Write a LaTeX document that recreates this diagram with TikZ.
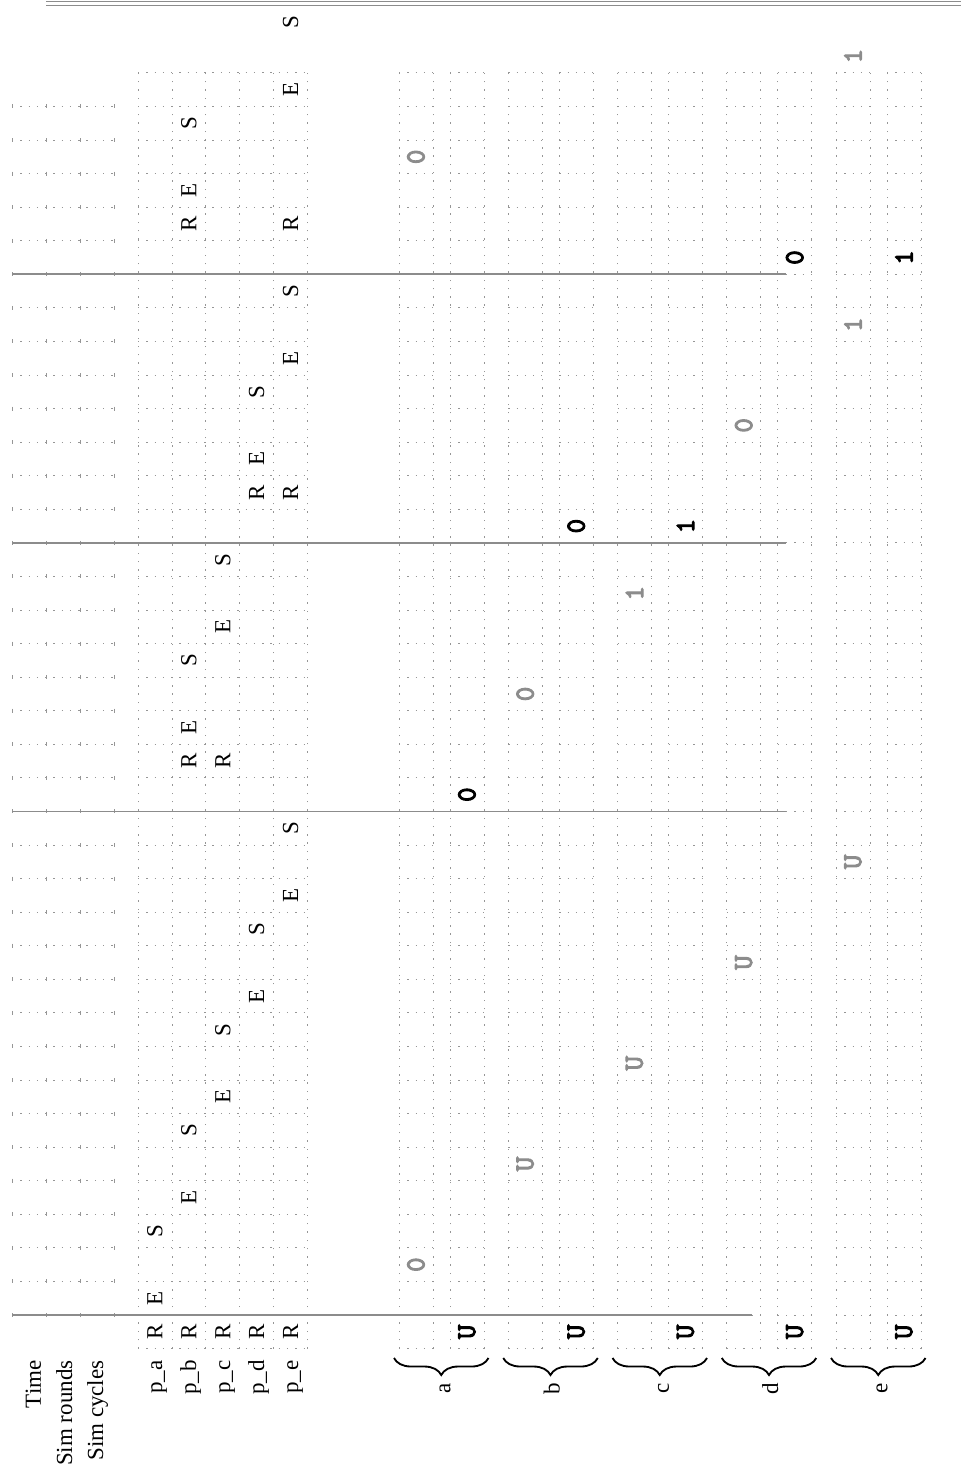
\documentclass[tikz,border=0pt]{standalone}
\usepackage{fontspec}
\setmainfont{Liberation Serif}
\newfontfamily\valfont{lmmono10-regular.otf}[FakeBold=3.5]
\usetikzlibrary{decorations.pathreplacing}
\definecolor{gridc}{RGB}{150,150,150}
\definecolor{linec}{RGB}{140,140,140}
\definecolor{valg}{RGB}{140,140,140}
\begin{document}
\begin{tikzpicture}[x=0.435pt,y=-0.435pt,
  griddot/.style={draw=gridc,line width=0.35pt,dash pattern=on 0.6pt off 3pt},
  tick/.style={draw=gridc,line width=0.4pt},
  roundline/.style={draw=linec,line width=0.8pt},
  lbl/.style={rotate=90,anchor=base east,inner sep=0pt,font=\fontsize{10}{12}\selectfont},
  act/.style={rotate=90,inner sep=0pt,font=\fontsize{10}{12}\selectfont},
  val/.style={rotate=90,inner sep=0pt,font=\fontsize{12}{14}\selectfont\valfont},
  brc/.style={decorate,decoration={brace,mirror,amplitude=7.4pt},line width=0.8pt},
]
\useasboundingbox (0,0) rectangle (961,1475);

% time area
\foreach \t in {1,...,36} \draw[griddot] (12,{1315-\t*33.57}) -- (114,{1315-\t*33.57});
\foreach \t in {0,...,36} \foreach \x in {12,46,80,114}
  \draw[tick] (\x,{1315-\t*33.57-2}) -- (\x,{1315-\t*33.57+2});

% process grid
\foreach \t in {-1,...,37} \draw[griddot] (138,{1315-\t*33.57}) -- (307.5,{1315-\t*33.57});
\foreach \i in {0,...,5} \draw[griddot] ({138+\i*33.9},1348.6) -- ({138+\i*33.9},73);

% variable grids
\foreach \j in {0,...,4} {
  \pgfmathsetmacro\s{399+\j*109.25}
  \foreach \c in {0,51} {
    \foreach \t in {-1,...,37}
      \draw[griddot] ({\s+\c},{1315-\t*33.57}) -- ({\s+\c+33.9},{1315-\t*33.57});
    \draw[griddot] ({\s+\c},1348.6) -- ({\s+\c},73);
    \draw[griddot] ({\s+\c+33.9},1348.6) -- ({\s+\c+33.9},73);
  }
  \coordinate (bl\j) at ({\s-5},1358);
  \coordinate (br\j) at ({\s+89.5},1358);
  \draw[brc] (bl\j) -- (br\j);
}

% round lines
\draw[roundline] (12,1315) -- (752,1315);
\foreach \t in {15,23,31} \draw[roundline] (12,{1315-\t*33.57}) -- (786,{1315-\t*33.57});
\draw[roundline,line width=0.6pt] (46,1.7) -- (961,1.7);
\draw[roundline,line width=0.6pt] (46,5.7) -- (961,5.7);

% header labels
\node[lbl] (time) at (41,1360) {Time};
\node[lbl] (rounds) at (72,1360) {Sim rounds};
\node[lbl] (cycles) at (103,1360) {Sim cycles};
\node[lbl] (pa) at (162,1360) {p\_a};
\node[lbl] (pb) at (196,1360) {p\_b};
\node[lbl] (pc) at (230,1360) {p\_c};
\node[lbl] (pd) at (264,1360) {p\_d};
\node[lbl] (pe) at (298,1360) {p\_e};
\foreach \j/\n in {0/a,1/b,2/c,3/d,4/e}
  \node[lbl] (var\n) at ({399+\j*109.25+42.25+9},1383) {\n};

% process actions
\foreach \i/\k/\L in {0/-1/R, 0/0/E, 0/2/S, 1/-1/R, 1/3/E, 1/5/S, 1/16/R, 1/17/E, 1/19/S, 1/32/R, 1/33/E, 1/35/S, 2/-1/R, 2/6/E, 2/8/S, 2/16/R, 2/20/E, 2/22/S, 3/-1/R, 3/9/E, 3/11/S, 3/24/R, 3/25/E, 3/27/S, 4/-1/R, 4/12/E, 4/14/S, 4/24/R, 4/28/E, 4/30/S, 4/32/R, 4/36/E, 4/38/S}
  \node[act] (act\i k\k) at ({138+(\i+0.5)*33.9},{1315-(\k+0.5)*33.57}) {\L};

% variable values
\foreach \j/\c/\k/\v/\col in {0/1/-1/U/black, 0/0/1/0/valg, 0/1/15/0/black, 0/0/34/0/valg,
  1/1/-1/U/black, 1/0/4/U/valg, 1/0/18/0/valg, 1/1/23/0/black,
  2/1/-1/U/black, 2/0/7/U/valg, 2/0/21/1/valg, 2/1/23/1/black,
  3/1/-1/U/black, 3/0/10/U/valg, 3/0/26/0/valg, 3/1/31/0/black,
  4/1/-1/U/black, 4/0/13/U/valg, 4/0/29/1/valg, 4/1/31/1/black, 4/0/37/1/valg}
  \node[val,text=\col] (v\j c\c k\k) at ({399+\j*109.25+\c*51+16.95},{1315-(\k+0.5)*33.57}) {\v};
\end{tikzpicture}
\end{document}
